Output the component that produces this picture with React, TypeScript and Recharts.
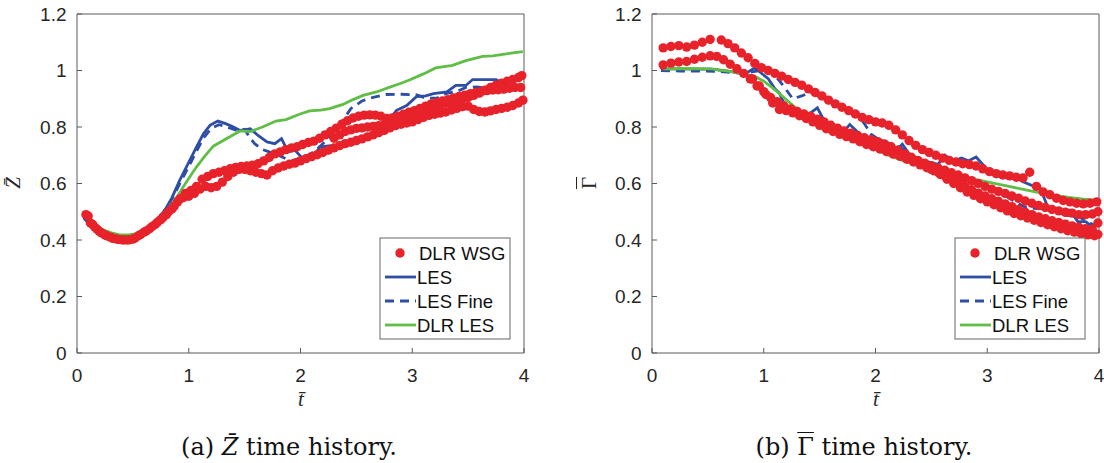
import React from "react";
import { ComposedChart, Line, Scatter, XAxis, YAxis } from "recharts";

type Pt = [number, number];

const tTicks = [0, 1, 2, 3, 4];
const yTicks = [0, 0.2, 0.4, 0.6, 0.8, 1, 1.2];
const legendLabels = ["DLR WSG", "LES", "LES Fine", "DLR LES"];

// ---- (a) Z time history ----
const zWsgA: Pt[] = [
  [0.08, 0.49], [0.12, 0.46], [0.16, 0.445], [0.2, 0.43], [0.25, 0.418], [0.3, 0.41], [0.35, 0.404],
  [0.4, 0.401], [0.45, 0.4], [0.5, 0.403], [0.55, 0.415], [0.6, 0.428], [0.65, 0.44], [0.7, 0.455],
  [0.75, 0.472], [0.8, 0.49], [0.85, 0.51], [0.9, 0.535], [0.95, 0.55], [1.0, 0.555], [1.05, 0.565],
  [1.1, 0.58], [1.15, 0.59], [1.2, 0.585], [1.25, 0.59], [1.3, 0.605], [1.35, 0.625], [1.4, 0.64],
  [1.45, 0.65], [1.5, 0.65], [1.55, 0.645], [1.6, 0.64], [1.65, 0.635], [1.7, 0.63], [1.75, 0.645],
  [1.8, 0.655], [1.85, 0.662], [1.9, 0.668], [1.95, 0.672], [2.0, 0.68], [2.05, 0.688], [2.1, 0.695],
  [2.15, 0.702], [2.2, 0.71], [2.25, 0.718], [2.3, 0.726], [2.35, 0.734], [2.4, 0.741], [2.45, 0.746],
  [2.5, 0.752], [2.55, 0.758], [2.6, 0.765], [2.65, 0.772], [2.7, 0.78], [2.75, 0.788], [2.8, 0.797],
  [2.85, 0.805], [2.9, 0.81], [2.95, 0.814], [3.0, 0.818], [3.05, 0.826], [3.1, 0.834], [3.15, 0.841],
  [3.2, 0.845], [3.25, 0.849], [3.3, 0.853], [3.35, 0.86], [3.4, 0.866], [3.45, 0.872], [3.5, 0.874],
  [3.55, 0.862], [3.6, 0.855], [3.65, 0.853], [3.7, 0.857], [3.75, 0.862], [3.8, 0.866], [3.85, 0.87],
  [3.9, 0.876], [3.95, 0.885], [3.99, 0.895],
];
const zWsgB: Pt[] = [
  [0.1, 0.485], [0.14, 0.455], [0.18, 0.438], [0.22, 0.425], [0.27, 0.414], [0.32, 0.406], [0.37, 0.402],
  [0.42, 0.4], [0.47, 0.401], [0.52, 0.407], [0.57, 0.42], [0.62, 0.432], [0.67, 0.447], [0.72, 0.463],
  [0.77, 0.48], [0.82, 0.5], [0.87, 0.52], [0.92, 0.545], [0.97, 0.565], [1.02, 0.575], [1.07, 0.59],
  [1.12, 0.615], [1.17, 0.625], [1.22, 0.635], [1.27, 0.64], [1.32, 0.645], [1.37, 0.652], [1.42, 0.657],
  [1.47, 0.66], [1.52, 0.662], [1.57, 0.665], [1.62, 0.67], [1.67, 0.68], [1.72, 0.692], [1.77, 0.705],
  [1.82, 0.712], [1.87, 0.72], [1.92, 0.726], [1.97, 0.73], [2.02, 0.738], [2.07, 0.745], [2.12, 0.75],
  [2.17, 0.76], [2.22, 0.772], [2.27, 0.784], [2.32, 0.796], [2.37, 0.81], [2.42, 0.822], [2.47, 0.832],
  [2.52, 0.838], [2.57, 0.842], [2.62, 0.843], [2.67, 0.842], [2.72, 0.838], [2.77, 0.83], [2.82, 0.832],
  [2.87, 0.838], [2.92, 0.845], [2.97, 0.852], [3.02, 0.858], [3.07, 0.866], [3.12, 0.874], [3.17, 0.882],
  [3.22, 0.887], [3.27, 0.892], [3.32, 0.897], [3.37, 0.903], [3.42, 0.908], [3.47, 0.913], [3.52, 0.918],
  [3.57, 0.922], [3.62, 0.926], [3.67, 0.929], [3.72, 0.931], [3.77, 0.932], [3.82, 0.934], [3.87, 0.937],
  [3.92, 0.94], [3.97, 0.94],
];
const zWsgC: Pt[] = [
  [2.3, 0.76], [2.35, 0.772], [2.4, 0.784], [2.45, 0.79], [2.5, 0.795], [2.55, 0.797], [2.6, 0.8],
  [2.65, 0.802], [2.7, 0.805], [2.75, 0.808], [2.8, 0.815], [2.85, 0.822], [2.9, 0.83], [2.95, 0.838],
  [3.0, 0.845], [3.05, 0.852], [3.1, 0.86], [3.15, 0.866], [3.2, 0.872], [3.25, 0.878], [3.3, 0.884],
  [3.35, 0.89], [3.4, 0.895], [3.45, 0.9], [3.5, 0.905], [3.55, 0.912], [3.6, 0.92], [3.65, 0.93],
  [3.7, 0.94], [3.75, 0.948], [3.8, 0.955], [3.85, 0.962], [3.9, 0.968], [3.95, 0.975], [3.98, 0.982],
];
const zLes: Pt[] = [
  [0.06, 0.482], [0.15, 0.445], [0.25, 0.42], [0.35, 0.408], [0.44, 0.406], [0.52, 0.415], [0.59, 0.43],
  [0.68, 0.46], [0.77, 0.494], [0.85, 0.55], [0.92, 0.612], [1.0, 0.675], [1.07, 0.73], [1.13, 0.775],
  [1.19, 0.806], [1.26, 0.821], [1.33, 0.812], [1.4, 0.8], [1.46, 0.788], [1.5, 0.79], [1.55, 0.794],
  [1.62, 0.77], [1.7, 0.747], [1.77, 0.741], [1.83, 0.759], [1.89, 0.712], [1.95, 0.718], [2.02, 0.688],
  [2.11, 0.686], [2.17, 0.729], [2.25, 0.733], [2.35, 0.735], [2.43, 0.742], [2.5, 0.753], [2.58, 0.762],
  [2.65, 0.77], [2.74, 0.794], [2.8, 0.83], [2.86, 0.859], [2.95, 0.876], [3.04, 0.908], [3.12, 0.91],
  [3.19, 0.918], [3.31, 0.924], [3.39, 0.947], [3.48, 0.947], [3.54, 0.968], [3.65, 0.968], [3.75, 0.968],
  [3.81, 0.955], [3.9, 0.965], [3.96, 0.979],
];
const zLesFine: Pt[] = [
  [0.06, 0.478], [0.15, 0.44], [0.25, 0.418], [0.35, 0.41], [0.44, 0.41], [0.52, 0.416], [0.6, 0.432],
  [0.68, 0.462], [0.77, 0.497], [0.85, 0.545], [0.92, 0.6], [1.0, 0.66], [1.07, 0.715], [1.13, 0.76],
  [1.2, 0.795], [1.27, 0.808], [1.34, 0.8], [1.43, 0.788], [1.5, 0.792], [1.55, 0.76], [1.59, 0.741],
  [1.66, 0.72], [1.72, 0.712], [1.8, 0.7], [1.87, 0.688], [1.92, 0.68], [2.0, 0.69], [2.07, 0.7],
  [2.14, 0.718], [2.25, 0.76], [2.35, 0.806], [2.45, 0.865], [2.55, 0.892], [2.65, 0.905], [2.77, 0.915],
  [2.9, 0.916], [3.04, 0.914], [3.12, 0.902], [3.22, 0.902], [3.3, 0.918], [3.4, 0.926], [3.48, 0.94],
  [3.58, 0.942], [3.68, 0.935], [3.75, 0.928], [3.81, 0.924], [3.88, 0.932], [3.96, 0.945],
];
const zDlrLes: Pt[] = [
  [0.06, 0.488], [0.15, 0.455], [0.24, 0.435], [0.32, 0.424], [0.38, 0.418], [0.46, 0.418], [0.56, 0.424],
  [0.62, 0.433], [0.68, 0.447], [0.75, 0.48], [0.83, 0.518], [0.9, 0.555], [0.95, 0.588], [1.01, 0.624],
  [1.07, 0.659], [1.14, 0.695], [1.22, 0.732], [1.34, 0.759], [1.46, 0.786], [1.55, 0.784], [1.66, 0.8],
  [1.78, 0.821], [1.87, 0.826], [1.99, 0.845], [2.08, 0.857], [2.18, 0.86], [2.26, 0.865], [2.38, 0.88],
  [2.47, 0.897], [2.56, 0.912], [2.68, 0.924], [2.8, 0.941], [2.9, 0.955], [2.98, 0.967], [3.1, 0.988],
  [3.21, 1.009], [3.3, 1.015], [3.36, 1.018], [3.48, 1.035], [3.63, 1.05], [3.72, 1.052], [3.81, 1.057],
  [3.9, 1.062], [3.99, 1.067],
];

// ---- (b) Gamma time history ----
const gWsgA: Pt[] = [
  [0.1, 1.08], [0.17, 1.085], [0.24, 1.088], [0.31, 1.083], [0.38, 1.09], [0.45, 1.1], [0.52, 1.11],
  [0.62, 1.108], [0.68, 1.095], [0.74, 1.08], [0.8, 1.062], [0.86, 1.045], [0.92, 1.025], [0.98, 1.01],
  [1.04, 1.0], [1.1, 0.99], [1.16, 0.98], [1.22, 0.968], [1.28, 0.958], [1.34, 0.948], [1.4, 0.935],
  [1.46, 0.922], [1.52, 0.91], [1.58, 0.895], [1.64, 0.882], [1.7, 0.87], [1.76, 0.858], [1.82, 0.846],
  [1.88, 0.834], [1.94, 0.826], [2.0, 0.818], [2.06, 0.814], [2.12, 0.806], [2.18, 0.79], [2.24, 0.772],
  [2.3, 0.752], [2.36, 0.735], [2.42, 0.72], [2.48, 0.71], [2.54, 0.7], [2.6, 0.69], [2.66, 0.682],
  [2.72, 0.676], [2.78, 0.67], [2.84, 0.667], [2.9, 0.662], [2.96, 0.652], [3.02, 0.642], [3.08, 0.635],
  [3.14, 0.63], [3.2, 0.627], [3.26, 0.622], [3.32, 0.62], [3.38, 0.64], [3.44, 0.59], [3.5, 0.57],
  [3.56, 0.56], [3.62, 0.548], [3.68, 0.54], [3.74, 0.535], [3.8, 0.53], [3.86, 0.528], [3.92, 0.53],
  [3.98, 0.535],
];
const gWsgB: Pt[] = [
  [0.1, 1.02], [0.17, 1.026], [0.24, 1.03], [0.31, 1.032], [0.38, 1.04], [0.45, 1.047], [0.52, 1.052],
  [0.58, 1.05], [0.64, 1.038], [0.7, 1.022], [0.76, 1.006], [0.82, 0.99], [0.88, 0.97], [0.94, 0.945],
  [1.0, 0.925], [1.06, 0.905], [1.12, 0.89], [1.18, 0.875], [1.24, 0.864], [1.3, 0.855], [1.36, 0.846],
  [1.42, 0.838], [1.48, 0.828], [1.54, 0.818], [1.6, 0.806], [1.66, 0.796], [1.72, 0.786], [1.78, 0.778],
  [1.84, 0.77], [1.9, 0.762], [1.96, 0.755], [2.02, 0.748], [2.08, 0.74], [2.14, 0.73], [2.2, 0.718],
  [2.26, 0.705], [2.32, 0.693], [2.38, 0.682], [2.44, 0.672], [2.5, 0.663], [2.56, 0.655], [2.62, 0.647],
  [2.68, 0.638], [2.74, 0.63], [2.8, 0.62], [2.86, 0.61], [2.92, 0.6], [2.98, 0.59], [3.04, 0.58],
  [3.1, 0.572], [3.16, 0.565], [3.22, 0.556], [3.28, 0.548], [3.34, 0.538], [3.4, 0.53], [3.46, 0.522],
  [3.52, 0.515], [3.58, 0.508], [3.64, 0.503], [3.7, 0.498], [3.76, 0.495], [3.82, 0.49], [3.88, 0.49],
  [3.94, 0.492], [3.99, 0.5],
];
const gWsgC: Pt[] = [
  [0.9, 0.97], [0.96, 0.945], [1.02, 0.915], [1.08, 0.885], [1.14, 0.862], [1.2, 0.858], [1.26, 0.85],
  [1.32, 0.84], [1.38, 0.83], [1.44, 0.818], [1.5, 0.806], [1.56, 0.794], [1.62, 0.784], [1.68, 0.774],
  [1.74, 0.766], [1.8, 0.758], [1.86, 0.748], [1.92, 0.738], [1.98, 0.73], [2.04, 0.722], [2.1, 0.713],
  [2.16, 0.704], [2.22, 0.696], [2.28, 0.686], [2.34, 0.676], [2.4, 0.666], [2.46, 0.656], [2.52, 0.645],
  [2.58, 0.632], [2.64, 0.615], [2.7, 0.6], [2.76, 0.585], [2.82, 0.57], [2.88, 0.558], [2.94, 0.546],
  [3.0, 0.535], [3.06, 0.525], [3.12, 0.514], [3.18, 0.503], [3.24, 0.494], [3.3, 0.486], [3.36, 0.478],
  [3.42, 0.47], [3.48, 0.462], [3.54, 0.454], [3.6, 0.447], [3.66, 0.44], [3.72, 0.433], [3.78, 0.428],
  [3.84, 0.422], [3.9, 0.418], [3.96, 0.415], [3.99, 0.42],
];
const gWsgD: Pt[] = [
  [2.5, 0.65], [2.56, 0.64], [2.62, 0.628], [2.68, 0.615], [2.74, 0.602], [2.8, 0.59], [2.86, 0.578],
  [2.92, 0.566], [2.98, 0.556], [3.04, 0.546], [3.1, 0.537], [3.16, 0.528], [3.22, 0.518], [3.28, 0.508],
  [3.34, 0.498], [3.4, 0.49], [3.46, 0.482], [3.52, 0.475], [3.58, 0.468], [3.64, 0.462], [3.7, 0.456],
  [3.76, 0.45], [3.82, 0.445], [3.88, 0.44], [3.94, 0.438], [3.99, 0.46],
];
const gLes: Pt[] = [
  [0.08, 1.006], [0.25, 1.006], [0.4, 1.005], [0.53, 1.005], [0.68, 0.998], [0.83, 0.988], [0.92, 1.009],
  [1.04, 0.971], [1.1, 0.935], [1.14, 0.92], [1.21, 0.859], [1.3, 0.857], [1.39, 0.842], [1.48, 0.868],
  [1.57, 0.8], [1.69, 0.771], [1.77, 0.809], [1.87, 0.771], [1.93, 0.76], [2.0, 0.758], [2.1, 0.747],
  [2.17, 0.712], [2.24, 0.739], [2.33, 0.688], [2.48, 0.676], [2.56, 0.668], [2.62, 0.7], [2.7, 0.68],
  [2.77, 0.69], [2.83, 0.68], [2.9, 0.694], [3.02, 0.641], [3.08, 0.624], [3.23, 0.629], [3.32, 0.606],
  [3.43, 0.588], [3.47, 0.588], [3.54, 0.518], [3.65, 0.506], [3.74, 0.506], [3.81, 0.465], [3.88, 0.465],
  [3.96, 0.441],
];
const gLesFine: Pt[] = [
  [0.08, 1.0], [0.25, 0.998], [0.45, 0.998], [0.6, 0.997], [0.81, 0.99], [0.97, 1.0], [1.06, 1.0],
  [1.15, 0.959], [1.26, 0.9], [1.34, 0.91], [1.42, 0.923], [1.57, 0.894], [1.75, 0.865], [1.85, 0.84],
  [1.9, 0.812], [1.96, 0.775], [2.03, 0.755], [2.12, 0.742], [2.22, 0.728], [2.32, 0.7], [2.45, 0.678],
  [2.54, 0.657], [2.66, 0.64], [2.78, 0.625], [2.88, 0.612], [3.05, 0.587], [3.15, 0.559], [3.25, 0.535],
  [3.33, 0.518], [3.42, 0.512], [3.5, 0.51], [3.6, 0.505], [3.7, 0.488], [3.83, 0.48], [3.97, 0.45],
];
const gDlrLes: Pt[] = [
  [0.1, 1.006], [0.3, 1.007], [0.53, 1.006], [0.74, 0.994], [0.92, 0.979], [1.0, 0.962], [1.07, 0.941],
  [1.14, 0.918], [1.21, 0.894], [1.28, 0.87], [1.36, 0.847], [1.43, 0.828], [1.51, 0.812], [1.6, 0.79],
  [1.69, 0.771], [1.78, 0.755], [1.87, 0.741], [1.95, 0.729], [2.05, 0.712], [2.14, 0.697], [2.24, 0.682],
  [2.38, 0.664], [2.54, 0.647], [2.7, 0.632], [2.84, 0.618], [3.0, 0.606], [3.14, 0.594], [3.3, 0.581],
  [3.43, 0.57], [3.58, 0.56], [3.73, 0.551], [3.86, 0.545], [3.97, 0.541],
];

const RED = "#e8222a";
const BLUE = "#2e4da5";
const GREEN = "#5fbe45";
const AXIS = "#5a5a5a";
const TXT = "#262626";
const SANS = "Liberation Sans";
const SERIF = "DejaVu Serif";
const LW = 2.8;
const TICK_FS = 19;

const rows = (pts: Pt[]) => pts.map(([t, v]) => ({ t, v }));

const RedDot = (p: any) => <circle cx={p.cx} cy={p.cy} r={4.7} fill={RED} />;

// explicit tick text so the font and size are surely the ones set here
const XTick = (p: any) => (
  <text x={p.x} y={p.y} dy="0.71em" textAnchor="middle" fontFamily={SANS} fontSize={TICK_FS} fill={TXT}>
    {String(p.payload.value)}
  </text>
);
const YTick = (p: any) => (
  <text x={p.x} y={p.y} dy="0.36em" textAnchor="end" fontFamily={SANS} fontSize={TICK_FS} fill={TXT}>
    {String(p.payload.value)}
  </text>
);

function LegendBox() {
  return (
    <svg width={132} height={103} style={{ position: "absolute", left: 379, top: 237 }}>
      <rect x={1} y={1} width={130} height={101} fill="#fff" stroke="#666" strokeWidth={1} />
      {legendLabels.map((lab, i) => {
        const y = 16 + i * 24;
        return (
          <g key={lab}>
            {i === 0 && <circle cx={21} cy={y} r={4.7} fill={RED} />}
            {i === 1 && <line x1={6} x2={37} y1={y} y2={y} stroke={BLUE} strokeWidth={LW} />}
            {i === 2 && <line x1={6} x2={37} y1={y} y2={y} stroke={BLUE} strokeWidth={LW} strokeDasharray="9 6" />}
            {i === 3 && <line x1={6} x2={37} y1={y} y2={y} stroke={GREEN} strokeWidth={LW} />}
            <text x={i === 0 ? 40 : 38} y={y} dominantBaseline="central" fontFamily={SANS} fontSize={18.5} fill="#111">
              {lab}
            </text>
          </g>
        );
      })}
    </svg>
  );
}

// Γ gets an overline, the combining macron sits badly on it
const OverGamma = () => <span style={{ textDecoration: "overline", textDecorationThickness: 1 }}>{"\u0393"}</span>;

function Panel(props: {
  left: number;
  wsg: Pt[][];
  les: Pt[];
  lesFine: Pt[];
  dlrLes: Pt[];
  ylabel: React.ReactNode;
  ylabelLeft: number;
  caption: React.ReactNode;
}) {
  const { left, wsg, les, lesFine, dlrLes, ylabel, ylabelLeft, caption } = props;
  return (
    <div style={{ position: "absolute", left, top: 0, width: 552, height: 463 }}>
      <ComposedChart width={552} height={393} margin={{ top: 13, right: 27, bottom: 0, left: 0 }}>
        <XAxis
          xAxisId="b"
          type="number"
          dataKey="t"
          domain={[0, 4]}
          ticks={tTicks}
          interval={0}
          height={40}
          tickSize={-5}
          tickMargin={21}
          stroke={AXIS}
          tick={<XTick />}
        />
        <XAxis xAxisId="top" orientation="top" type="number" domain={[0, 4]} ticks={tTicks} interval={0} height={1} tickSize={-5} tick={false} stroke={AXIS} />
        <YAxis
          yAxisId="l"
          type="number"
          dataKey="v"
          domain={[0, 1.2]}
          ticks={yTicks}
          interval={0}
          width={77}
          tickSize={-5}
          tickMargin={15.5}
          stroke={AXIS}
          tick={<YTick />}
        />
        <YAxis yAxisId="r" orientation="right" type="number" domain={[0, 1.2]} ticks={yTicks} interval={0} width={1} tickSize={-5} tick={false} stroke={AXIS} />
        {wsg.map((trk, i) => (
          <Scatter key={i} xAxisId="b" yAxisId="l" data={rows(trk)} dataKey="v" fill={RED} shape={RedDot} isAnimationActive={false} />
        ))}
        <Line xAxisId="b" yAxisId="l" data={rows(lesFine)} dataKey="v" type="linear" stroke={BLUE} strokeWidth={LW} strokeDasharray="9 6" dot={false} isAnimationActive={false} />
        <Line xAxisId="b" yAxisId="l" data={rows(les)} dataKey="v" type="linear" stroke={BLUE} strokeWidth={LW} dot={false} isAnimationActive={false} />
        <Line xAxisId="b" yAxisId="l" data={rows(dlrLes)} dataKey="v" type="linear" stroke={GREEN} strokeWidth={LW} dot={false} isAnimationActive={false} />
      </ComposedChart>
      <LegendBox />
      <div
        style={{
          position: "absolute", left: ylabelLeft, top: 168, width: 40, height: 30, lineHeight: "30px", textAlign: "center",
          transform: "rotate(-90deg)", fontFamily: "Liberation Serif", fontSize: 21, color: TXT,
        }}
      >
        {ylabel}
      </div>
      <div
        style={{
          position: "absolute", left: 281, top: 385, width: 40, height: 28, lineHeight: "28px", textAlign: "center",
          fontFamily: "Liberation Serif", fontStyle: "italic", fontSize: 21, color: TXT,
        }}
      >
        {"t\u0304"}
      </div>
      <div
        style={{
          position: "absolute", left: 0, top: 433, width: 578, lineHeight: "28px", textAlign: "center",
          fontFamily: SERIF, fontSize: 24, color: "#111", whiteSpace: "nowrap",
        }}
      >
        {caption}
      </div>
    </div>
  );
}

export default function App() {
  return (
    <div style={{ position: "absolute", left: 0, top: 0, width: 1104, height: 463, background: "#fff", overflow: "hidden" }}>
      <Panel
        left={0}
        wsg={[zWsgA, zWsgB, zWsgC]}
        les={zLes}
        lesFine={zLesFine}
        dlrLes={zDlrLes}
        ylabel={<i>{"Z\u0304"}</i>}
        ylabelLeft={-7}
        caption={<span>(a) <i>{"Z\u0304"}</i> time history.</span>}
      />
      <Panel
        left={575}
        wsg={[gWsgA, gWsgB, gWsgC, gWsgD]}
        les={gLes}
        lesFine={gLesFine}
        dlrLes={gDlrLes}
        ylabel={<OverGamma />}
        ylabelLeft={-6}
        caption={<span>(b) <OverGamma /> time history.</span>}
      />
    </div>
  );
}
